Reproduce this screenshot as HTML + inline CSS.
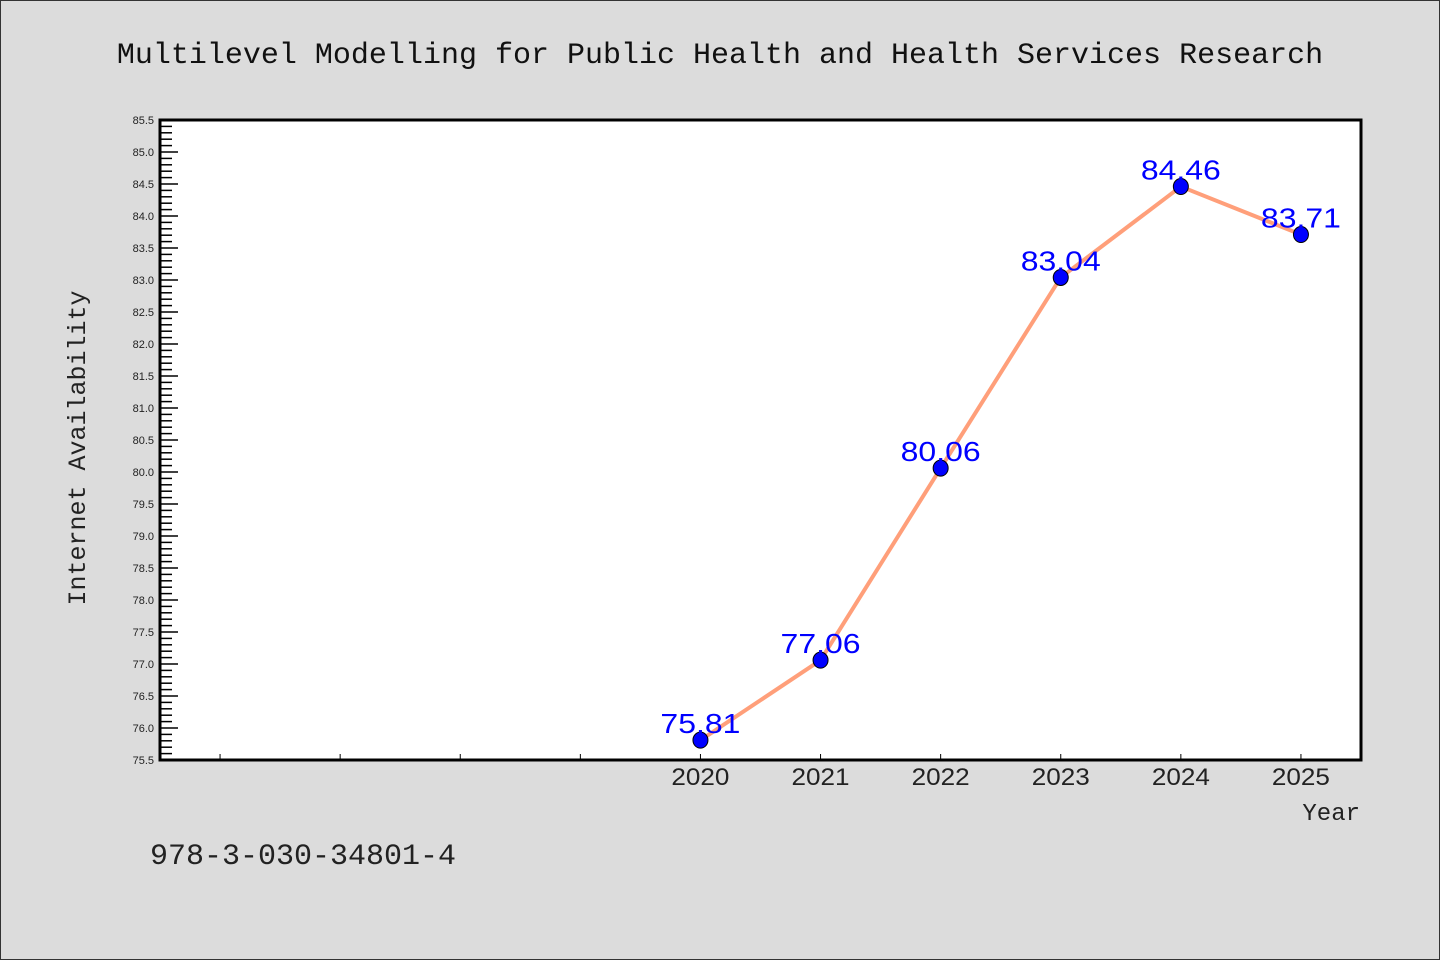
<!DOCTYPE html>
<html><head><meta charset="utf-8"><style>
body{margin:0;width:1440px;height:960px;overflow:hidden;background:#dcdcdc}
svg{display:block}
text{font-family:"Liberation Sans",sans-serif}
.mono{font-family:"Liberation Mono",monospace}
</style></head><body>
<svg id="chart" width="1440" height="960" xmlns="http://www.w3.org/2000/svg">
<rect x="0.5" y="0.5" width="1439" height="959" fill="#dcdcdc" stroke="#333" stroke-width="1"/>
<text class="mono" x="720" y="63" text-anchor="middle" font-size="30" fill="#111">Multilevel Modelling for Public Health and Health Services Research</text>
<rect x="160" y="120" width="1201" height="640" fill="#fff"/>
<g id="yticks"></g><g id="xticks"></g>
<rect x="160" y="120" width="1201" height="640" fill="none" stroke="#000" stroke-width="3"/>
<text class="mono" transform="translate(85,448) rotate(-90)" text-anchor="middle" font-size="25" fill="#222">Internet Availability</text>
<text class="mono" x="1360" y="820" text-anchor="end" font-size="24" fill="#222">Year</text>
<text class="mono" x="150" y="864" font-size="30" fill="#222">978-3-030-34801-4</text>
<g id="series"></g>
</svg>
<script>
const categories=["","","","","","2020","2021","2022","2023","2024","2025"].slice(1);
const values=[null,null,null,null,75.81,77.06,80.06,83.04,84.46,83.71];
const labels=["","","","","","75.81","77.06","80.06","83.04","84.46","83.71"].slice(1);
const yMin=75.5,yMax=85.5;
const NS="http://www.w3.org/2000/svg";
const L=160,R=1361,T=120,B=760;
const slot=(R-L)/categories.length;
const x=i=>L+slot*(i+0.5);
const y=v=>B-(v-yMin)/(yMax-yMin)*(B-T);
function mk(tag,attrs,parent){const e=document.createElementNS(NS,tag);for(const k in attrs)e.setAttribute(k,attrs[k]);parent.appendChild(e);return e;}
const yt=document.getElementById('yticks');
for(let k=0;k<=100;k++){const v=yMin+k*0.1;const major=k%5===0;const yy=y(v);
const t=mk('line',{x1:L,x2:L+(major?18:12),y1:yy,y2:yy,stroke:'#000','stroke-width':1.5},yt);

if(major){const tx=mk('text',{x:L-6,y:yy+4,'text-anchor':'end','font-size':11,fill:'#222'},yt);tx.textContent=v.toFixed(1);
}}
const xt=document.getElementById('xticks');
categories.forEach((c,i)=>{const xx=x(i);
const t=mk('line',{x1:xx,x2:xx,y1:B,y2:B-6,stroke:'#000','stroke-width':1},xt);

if(c){const tx=mk('text',{x:xx-29,y:B+25,'font-size':24,fill:'#222',textLength:58,lengthAdjust:'spacingAndGlyphs'},xt);tx.textContent=c;
}});
const s=document.getElementById('series');
const pts=[];values.forEach((v,i)=>{if(v!=null)pts.push([x(i),y(v),i]);});
const pl=mk('polyline',{points:pts.map(p=>p[0]+','+p[1]).join(' '),fill:'none',stroke:'#ff9f7a','stroke-width':4,'stroke-linejoin':'round'},s);

pts.forEach(p=>{const c=mk('ellipse',{cx:p[0],cy:p[1],rx:7.5,ry:8,fill:'#0000ff',stroke:'#000','stroke-width':1},s);

const t=mk('text',{x:p[0]-40,y:p[1]-7,'font-size':28,fill:'#0000ff',textLength:80,lengthAdjust:'spacingAndGlyphs'},s);t.textContent=labels[p[2]];
});
</script>
</body></html>
